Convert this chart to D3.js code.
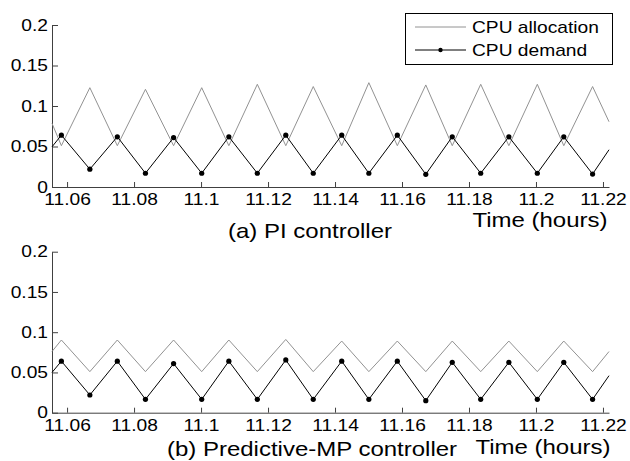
<!DOCTYPE html>
<html>
<head>
<meta charset="utf-8">
<script src="https://cdn.jsdelivr.net/npm/d3@7"></script>
<style>
  html, body { margin: 0; padding: 0; background: #fff; }
  svg { display: block; }
  text { font-family: "Liberation Sans", Arial, sans-serif; fill: #000; }
</style>
</head>
<body>
<svg id="chart" width="630" height="461"></svg>
<script>
// ---------- data ----------
const xDomain = [11.0555, 11.2218];
const yDomain = [0, 0.2];
const xTicks = [11.06, 11.08, 11.10, 11.12, 11.14, 11.16, 11.18, 11.20, 11.22];
const xTickLabels = ["11.06", "11.08", "11.1", "11.12", "11.14", "11.16", "11.18", "11.2", "11.22"];
const yTicks = [0, 0.05, 0.1, 0.15, 0.2];
const yTickLabels = ["0", "0.05", "0.1", "0.15", "0.2"];

const times = [11.0555, 11.0583, 11.0668, 11.0750, 11.0834, 11.0918, 11.1002, 11.1083,
  11.1168, 11.1253, 11.1335, 11.1420, 11.1501, 11.1586, 11.1671, 11.1750, 11.1835,
  11.1919, 11.2004, 11.2083, 11.2169, 11.2218];

// (a) PI controller
const demandA = [0.0496, 0.064, 0.022, 0.062, 0.017, 0.061, 0.017, 0.062, 0.017, 0.064, 0.017,
  0.064, 0.017, 0.064, 0.0157, 0.062, 0.017, 0.062, 0.017, 0.062, 0.016, 0.046];
const allocA = [0.0786, 0.051, 0.1226, 0.051, 0.1206, 0.051, 0.1226, 0.051, 0.1268, 0.051, 0.124,
  0.051, 0.1288, 0.051, 0.126, 0.051, 0.1268, 0.051, 0.1268, 0.051, 0.124, 0.0806];

// (b) Predictive-MP controller
const demandB = [0.050, 0.064, 0.022, 0.064, 0.0166, 0.061, 0.0166, 0.064, 0.0166, 0.0655, 0.0166,
  0.064, 0.0166, 0.064, 0.015, 0.0626, 0.0166, 0.0626, 0.0166, 0.0626, 0.0166, 0.046];
const allocB = [0.076, 0.0903, 0.051, 0.0903, 0.051, 0.0903, 0.051, 0.0903, 0.051, 0.091, 0.051,
  0.089, 0.051, 0.089, 0.051, 0.089, 0.051, 0.089, 0.051, 0.089, 0.051, 0.076];

const seriesNames = ["CPU allocation", "CPU demand"];
const captions = ["(a) PI controller", "(b) Predictive-MP controller"];
const xTitle = "Time (hours)";

// ---------- drawing ----------
const svg = d3.select("#chart");
const SX = 1.2; // horizontal stretch of the original figure's text
const axisColor = "#404040";
const allocColor = "#929292";

const x = d3.scaleLinear().domain(xDomain).range([52, 609]);

function stretchText(sel) {
  sel.each(function () {
    const t = d3.select(this);
    const tx = +t.attr("x") || 0, ty = +t.attr("y") || 0;
    t.attr("x", 0).attr("y", 0)
     .attr("transform", `translate(${tx},${ty}) scale(${SX},1)`);
  });
}

function panel(top, bottom, demand, alloc, caption, capX, capY, titleX, titleY) {
  const y = d3.scaleLinear().domain(yDomain).range([bottom, top]);
  const g = svg.append("g");

  // axes
  const xa = g.append("g").attr("transform", `translate(0,${bottom})`)
    .call(d3.axisBottom(x).tickValues(xTicks).tickFormat((d, i) => xTickLabels[i])
      .tickSizeInner(-5).tickSizeOuter(0).tickPadding(7));
  const ya = g.append("g").attr("transform", `translate(52,0)`)
    .call(d3.axisLeft(y).tickValues(yTicks).tickFormat((d, i) => yTickLabels[i])
      .tickSizeInner(-6).tickSizeOuter(0).tickPadding(4));
  [xa, ya].forEach(a => {
    a.select(".domain").attr("stroke", axisColor);
    a.selectAll(".tick line").attr("stroke", axisColor);
    a.selectAll("text").attr("font-size", 16).attr("fill", "#000")
      .style("font-family", '"Liberation Sans", Arial, sans-serif');
    stretchText(a.selectAll("text"));
  });

  const pts = (vals) => times.map((t, i) => [t, vals[i]]);
  const line = d3.line().x(d => x(d[0])).y(d => y(d[1]));

  g.append("path").attr("d", line(pts(alloc)))
    .attr("fill", "none").attr("stroke", allocColor).attr("stroke-width", 1);
  g.append("path").attr("d", line(pts(demand)))
    .attr("fill", "none").attr("stroke", "#000").attr("stroke-width", 1);
  g.selectAll(".dot").data(pts(demand).filter(d => d[0] > xDomain[0] && d[0] < xDomain[1]))
    .enter().append("circle")
    .attr("cx", d => x(d[0])).attr("cy", d => y(d[1])).attr("r", 2.6).attr("fill", "#000");

  g.append("text").attr("x", titleX).attr("y", titleY).attr("text-anchor", "middle")
    .attr("font-size", 20).text(xTitle).call(stretchText);
  g.append("text").attr("x", capX).attr("y", capY).attr("text-anchor", "middle")
    .attr("font-size", 20).text(caption).call(stretchText);
}

panel(25, 187, demandA, allocA, captions[0], 310, 238, 540, 227);
panel(251.7, 412.7, demandB, allocB, captions[1], 312, 456, 543, 454);

// legend
const lg = svg.append("g");
lg.append("rect").attr("x", 405.5).attr("y", 13.5).attr("width", 207).attr("height", 51)
  .attr("fill", "#fff").attr("stroke", "#000").attr("stroke-width", 1);
const rows = [27, 50];
lg.append("line").attr("x1", 415).attr("x2", 466).attr("y1", rows[0]).attr("y2", rows[0])
  .attr("stroke", allocColor).attr("stroke-width", 1);
lg.append("line").attr("x1", 415).attr("x2", 466).attr("y1", rows[1]).attr("y2", rows[1])
  .attr("stroke", "#000").attr("stroke-width", 1);
lg.append("circle").attr("cx", 440.5).attr("cy", rows[1]).attr("r", 2.2).attr("fill", "#000");
seriesNames.forEach((n, i) => {
  lg.append("text").attr("x", 472).attr("y", rows[i]).attr("dy", "0.36em")
    .attr("font-size", 16).text(n).call(stretchText);
});
</script>
</body>
</html>
